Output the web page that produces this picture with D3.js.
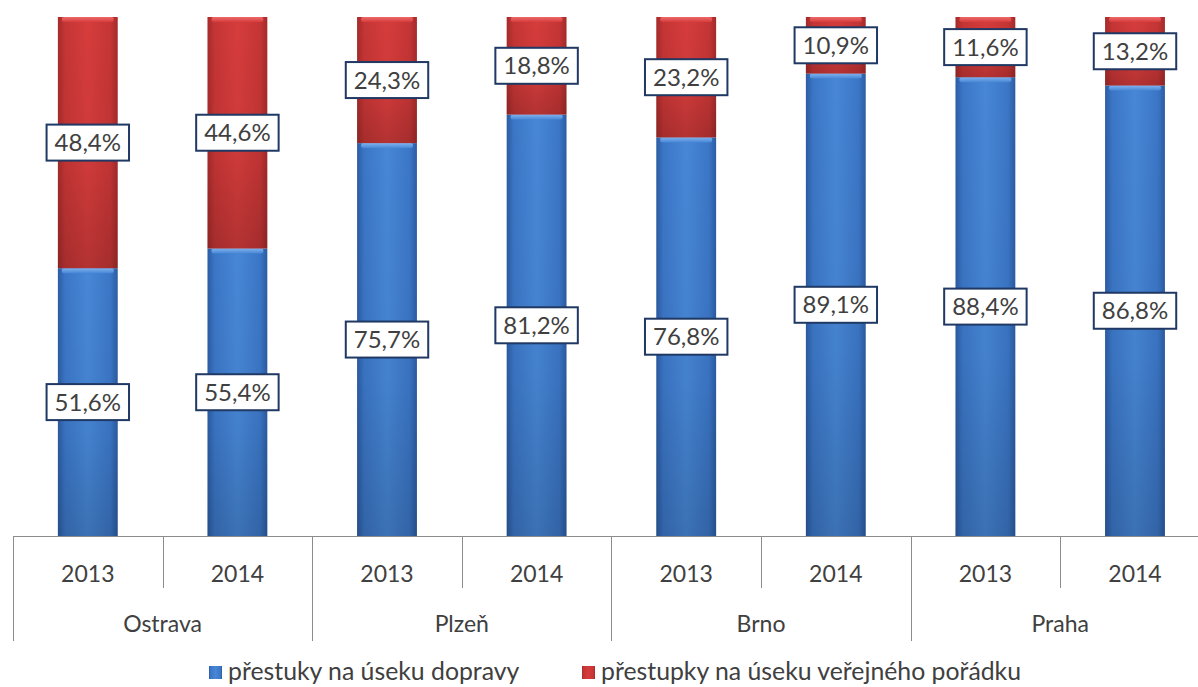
<!DOCTYPE html>
<html><head><meta charset="utf-8">
<script src="https://cdn.jsdelivr.net/npm/d3@7"></script>
<style>html,body{margin:0;padding:0;background:#fff;overflow:hidden}</style>
</head><body>
<svg id="c" width="1198" height="687"></svg>
<script>
const cities = ["Ostrava", "Plzeň", "Brno", "Praha"];
const years = ["2013", "2014"];
const doprava = [51.6, 55.4, 75.7, 81.2, 76.8, 89.1, 88.4, 86.8];
const poradek = [48.4, 44.6, 24.3, 18.8, 23.2, 10.9, 11.6, 13.2];
const seriesNames = ["přestuky na úseku dopravy", "přestupky na úseku veřejného pořádku"];

(function () {
const svg = d3.select("#c");
const FONT = "Lato, 'Open Sans', sans-serif";
const pLeft = 13, pRight = 1209.8, pTop = 17, pBottom = 536;

const slots = d3.range(cities.length * years.length);
const x = d3.scaleBand().domain(slots).range([pLeft, pRight]).paddingInner(0.6).paddingOuter(0.3);
const y = d3.scaleLinear().domain([0, 100]).range([pBottom, pTop]);

const defs = svg.append("defs");
function grad(id, stops, vertical) {
  const g = defs.append("linearGradient").attr("id", id)
    .attr("x1", 0).attr("y1", 0).attr("x2", vertical ? 0 : 1).attr("y2", vertical ? 1 : 0);
  stops.forEach(s => g.append("stop").attr("offset", s[0]).attr("stop-color", s[1]).attr("stop-opacity", s[2] == null ? 1 : s[2]));
}
grad("gBlue", [[0, "#2b5ca3"], [0.12, "#3b76c6"], [0.5, "#4787d6"], [0.88, "#3b76c6"], [1, "#2b5ca3"]]);
grad("gRed", [[0, "#a52a2a"], [0.12, "#c53535"], [0.5, "#d63c3c"], [0.88, "#c53535"], [1, "#a52a2a"]]);
grad("gShade", [[0, "#000", 0], [0.6, "#000", 0.04], [1, "#000", 0.16]], true);
grad("gBlueTop", [[0, "#7fb2ee"], [1, "#4787d6"]], true);
grad("gRedTop", [[0, "#ee6a6a"], [1, "#d63c3c"]], true);

const stack = slots.map(i => ({ i, segs: [
  { s: 0, y0: 0, y1: doprava[i], v: doprava[i] },
  { s: 1, y0: doprava[i], y1: doprava[i] + poradek[i], v: poradek[i] }
]}));

const bars = svg.append("g");
stack.forEach(d => {
  d.segs.forEach(seg => {
    const bx = x(d.i), bw = x.bandwidth();
    const yt = y(seg.y1), yb = y(seg.y0);
    bars.append("rect").attr("x", bx).attr("y", yt).attr("width", bw).attr("height", yb - yt)
      .attr("fill", seg.s === 0 ? "url(#gBlue)" : "url(#gRed)");
    bars.append("rect").attr("x", bx).attr("y", yt).attr("width", bw).attr("height", yb - yt)
      .attr("fill", "url(#gShade)");
    bars.append("rect").attr("x", bx + 4).attr("y", yt).attr("width", bw - 8).attr("height", Math.min(5, yb - yt))
      .attr("rx", 2).attr("fill", seg.s === 0 ? "url(#gBlueTop)" : "url(#gRedTop)");
  });
});

// Axis
const ax = svg.append("g").attr("stroke", "#8c8c8c").attr("stroke-width", 1);
ax.append("line").attr("x1", pLeft).attr("x2", pRight).attr("y1", pBottom + 0.5).attr("y2", pBottom + 0.5);
const step = x.step();
for (let k = 0; k <= slots.length; k++) {
  const xx = Math.round(pLeft + k * step) + 0.5;
  const isCity = k % years.length === 0;
  ax.append("line").attr("x1", xx).attr("x2", xx).attr("y1", pBottom).attr("y2", isCity ? 641 : 588);
}
svg.append("g").selectAll("text").data(slots).join("text")
  .attr("x", i => x(i) + x.bandwidth() / 2).attr("y", 582)
  .attr("text-anchor", "middle").attr("font-family", FONT).attr("font-size", 23).attr("fill", "#404040")
  .text(i => years[i % years.length]);
svg.append("g").selectAll("text").data(cities).join("text")
  .attr("x", (c, k) => pLeft + (k + 0.5) * years.length * step).attr("y", 632)
  .attr("text-anchor", "middle").attr("font-family", FONT).attr("font-size", 23).attr("fill", "#404040")
  .text(c => c);

// Data labels
const lab = svg.append("g");
stack.forEach(d => {
  d.segs.forEach(seg => {
    const cx = x(d.i) + x.bandwidth() / 2;
    const cy = (y(seg.y0) + y(seg.y1)) / 2;
    const g = lab.append("g");
    const t = g.append("text").attr("x", cx).attr("y", cy + 8.5)
      .attr("text-anchor", "middle").attr("font-family", FONT).attr("font-size", 24).attr("fill", "#404040")
      .text(seg.v.toFixed(1).replace(".", ",") + "%");
    const w = t.node().getComputedTextLength() + 16;
    g.insert("rect", "text").attr("x", cx - w / 2).attr("y", cy - 18).attr("width", w).attr("height", 36)
      .attr("fill", "#fff").attr("stroke", "#1f3864").attr("stroke-width", 2);
  });
});

// Legend
const legend = svg.append("g");
const legX = [209, 582];
seriesNames.forEach((n, k) => {
  const g = legend.append("g");
  g.append("rect").attr("x", legX[k]).attr("y", 666).attr("width", 13).attr("height", 13)
    .attr("fill", k === 0 ? "url(#gBlue)" : "url(#gRed)");
  g.append("text").attr("x", legX[k] + 19).attr("y", 680).attr("font-family", FONT).attr("font-size", 24.8)
    .attr("fill", "#404040").text(n);
});
})();
</script>
</body></html>
